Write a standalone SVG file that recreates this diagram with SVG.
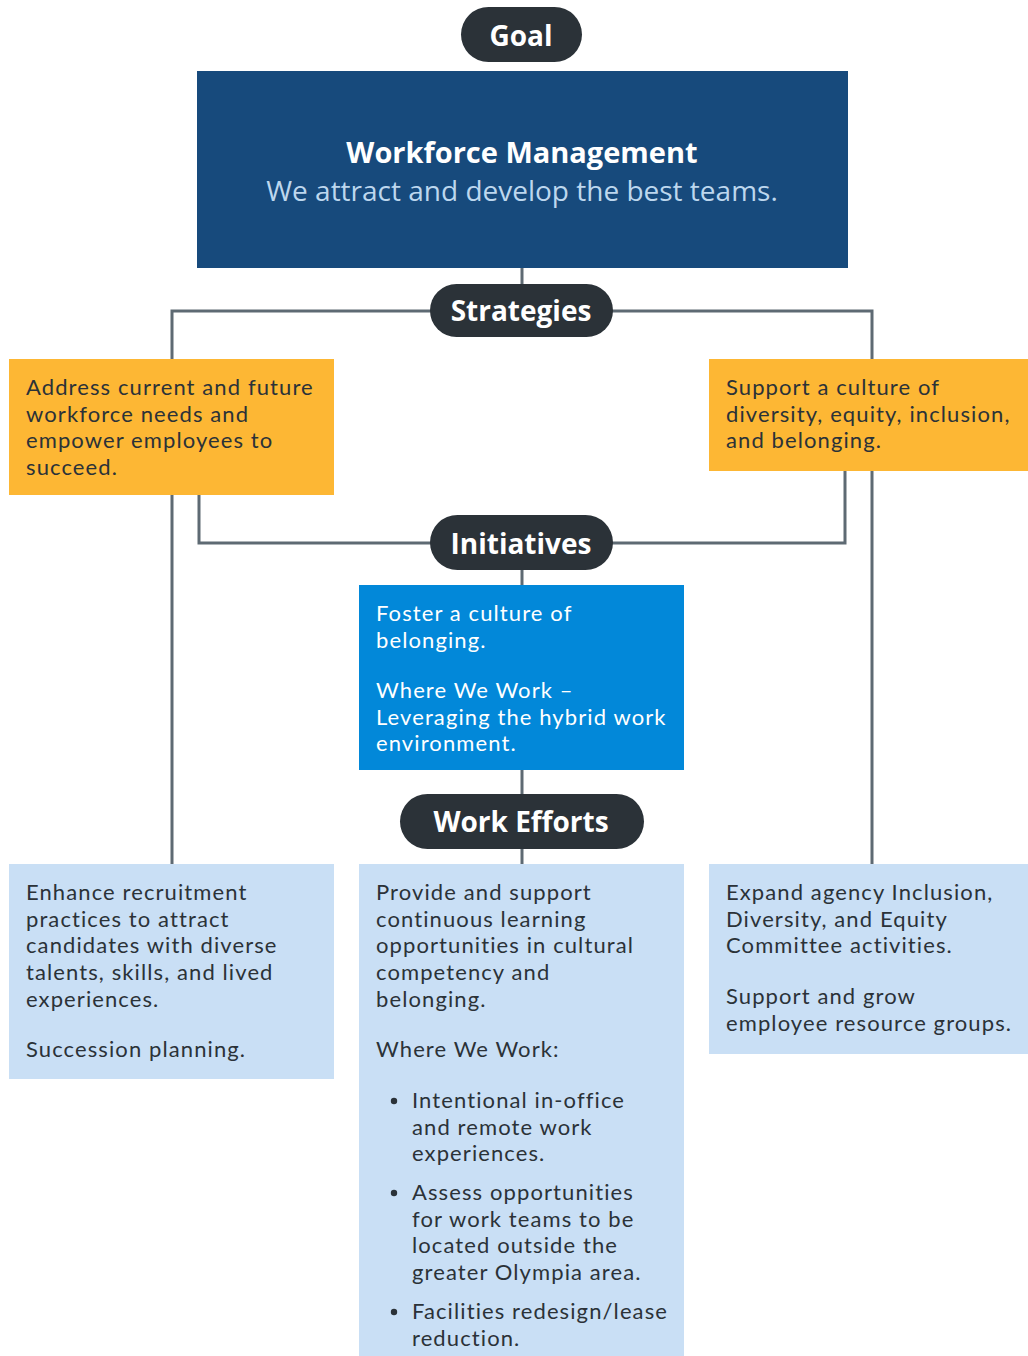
<svg xmlns="http://www.w3.org/2000/svg" width="1028" height="1356" viewBox="0 0 1028 1356">
<style>
text{font-family:"Open Sans","Noto Sans","Liberation Sans",sans-serif}
.pill{fill:#2B3238}
.pt{fill:#FFFFFF;font-size:28px;font-weight:bold;text-anchor:middle}
.conn{fill:none;stroke:#5E6A73;stroke-width:3}
.strat{fill:#FDB734}
.init{fill:#0288D9}
.eff{fill:#C9DFF5}
.dark,.white{font-family:Lato,"Open Sans",sans-serif;font-size:22px;letter-spacing:1.1px}
.dark{fill:#2B3238}
.white{fill:#FFFFFF}
</style>
<rect width="1028" height="1356" fill="#FFFFFF"/>
<g id="connectors">
<line class="conn" x1="522" y1="268" x2="522" y2="286"/>
<polyline class="conn" points="432,311 172,311 172,864"/>
<polyline class="conn" points="611,311 872,311 872,864"/>
<polyline class="conn" points="199,495 199,543 432,543"/>
<polyline class="conn" points="845,471 845,543 611,543"/>
<line class="conn" x1="522" y1="568" x2="522" y2="586"/>
<line class="conn" x1="522" y1="770" x2="522" y2="796"/>
<line class="conn" x1="522" y1="847" x2="522" y2="865"/>
</g>
<g id="goal">
<rect class="pill" x="461" y="7" width="121" height="55" rx="27.5"/>
<text class="pt" x="521" y="46">Goal</text>
</g>
<g id="workforce-management">
<rect x="197" y="71" width="651" height="197" fill="#174A7C"/>
<text x="522" y="163" fill="#FFFFFF" font-size="29" font-weight="bold" text-anchor="middle">Workforce Management</text>
<text x="522" y="201" fill="#BDD7EE" font-size="28" text-anchor="middle">We attract and develop the best teams.</text>
</g>
<g id="strategies">
<rect class="pill" x="430" y="284" width="183" height="53" rx="26.5"/>
<text class="pt" x="521" y="321">Strategies</text>
</g>
<g id="strategy-left">
<rect class="strat" x="9" y="359" width="325" height="136"/>
<text class="dark" x="26" y="395">Address current and future</text>
<text class="dark" x="26" y="421.7">workforce needs and</text>
<text class="dark" x="26" y="448.4">empower employees to</text>
<text class="dark" x="26" y="475.1">succeed.</text>
</g>
<g id="strategy-right">
<rect class="strat" x="709" y="359" width="319" height="112"/>
<text class="dark" x="726" y="395">Support a culture of</text>
<text class="dark" x="726" y="421.7">diversity, equity, inclusion,</text>
<text class="dark" x="726" y="448.4">and belonging.</text>
</g>
<g id="initiatives">
<rect class="pill" x="430" y="515" width="183" height="55" rx="27.5"/>
<text class="pt" x="521" y="554">Initiatives</text>
</g>
<g id="initiative-box">
<rect class="init" x="359" y="585" width="325" height="185"/>
<text class="white" x="376" y="621">Foster a culture of</text>
<text class="white" x="376" y="647.7">belonging.</text>
<text class="white" x="376" y="698">Where We Work –</text>
<text class="white" x="376" y="724.7">Leveraging the hybrid work</text>
<text class="white" x="376" y="751.4">environment.</text>
</g>
<g id="work-efforts">
<rect class="pill" x="400" y="794" width="244" height="55" rx="27.5"/>
<text class="pt" x="521" y="832">Work Efforts</text>
</g>
<g id="effort-left">
<rect class="eff" x="9" y="864" width="325" height="215"/>
<text class="dark" x="26" y="900">Enhance recruitment</text>
<text class="dark" x="26" y="926.7">practices to attract</text>
<text class="dark" x="26" y="953.4">candidates with diverse</text>
<text class="dark" x="26" y="980.1">talents, skills, and lived</text>
<text class="dark" x="26" y="1006.8">experiences.</text>
<text class="dark" x="26" y="1057">Succession planning.</text>
</g>
<g id="effort-middle">
<rect class="eff" x="359" y="864" width="325" height="492"/>
<text class="dark" x="376" y="900">Provide and support</text>
<text class="dark" x="376" y="926.7">continuous learning</text>
<text class="dark" x="376" y="953.4">opportunities in cultural</text>
<text class="dark" x="376" y="980.1">competency and</text>
<text class="dark" x="376" y="1006.8">belonging.</text>
<text class="dark" x="376" y="1057">Where We Work:</text>
<circle cx="394" cy="1101" r="3.2" fill="#2B3238"/>
<text class="dark" x="412" y="1108">Intentional in-office</text>
<text class="dark" x="412" y="1134.7">and remote work</text>
<text class="dark" x="412" y="1161.4">experiences.</text>
<circle cx="394" cy="1193" r="3.2" fill="#2B3238"/>
<text class="dark" x="412" y="1200">Assess opportunities</text>
<text class="dark" x="412" y="1226.7">for work teams to be</text>
<text class="dark" x="412" y="1253.4">located outside the</text>
<text class="dark" x="412" y="1280.1">greater Olympia area.</text>
<circle cx="394" cy="1312" r="3.2" fill="#2B3238"/>
<text class="dark" x="412" y="1319">Facilities redesign/lease</text>
<text class="dark" x="412" y="1345.7">reduction.</text>
</g>
<g id="effort-right">
<rect class="eff" x="709" y="864" width="319" height="190"/>
<text class="dark" x="726" y="900">Expand agency Inclusion,</text>
<text class="dark" x="726" y="926.7">Diversity, and Equity</text>
<text class="dark" x="726" y="953.4">Committee activities.</text>
<text class="dark" x="726" y="1004">Support and grow</text>
<text class="dark" x="726" y="1030.7">employee resource groups.</text>
</g>
</svg>
